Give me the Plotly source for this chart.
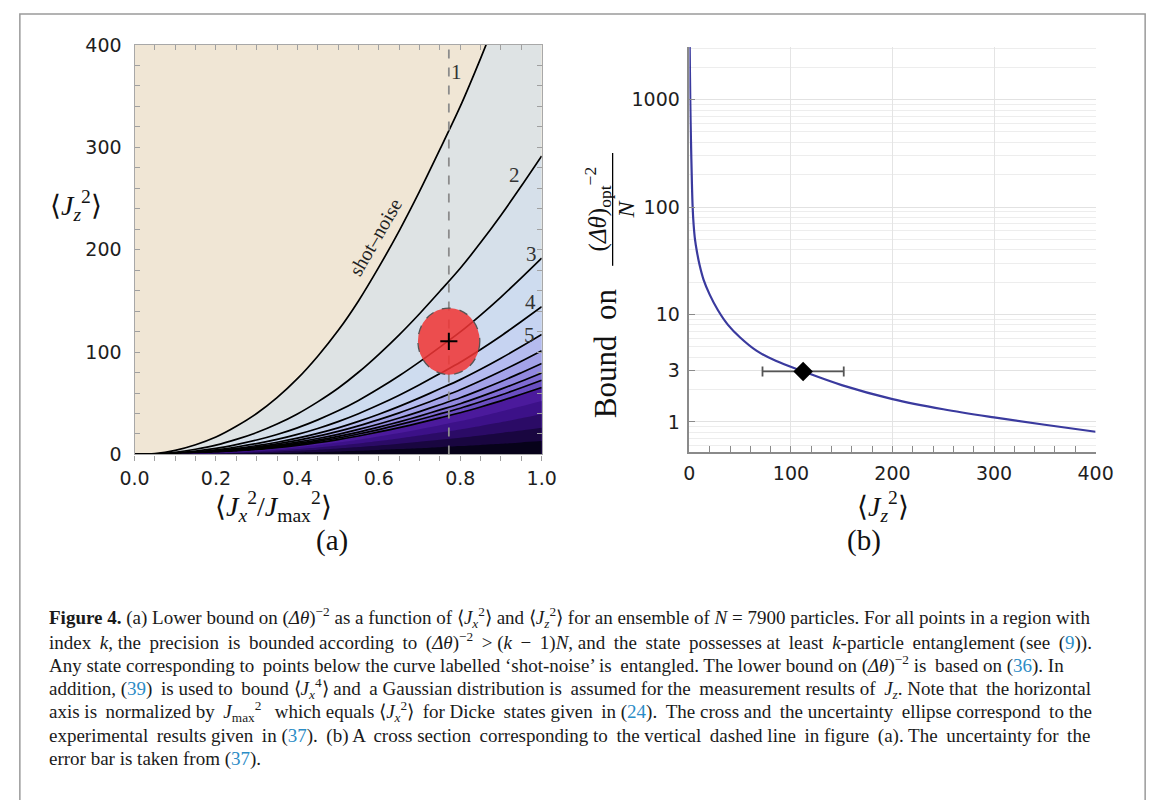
import plotly.graph_objects as go

W, H = 1168, 800

# ---------------- Panel (a) data: contour boundaries ----------------
xa = [0, 0.05, 0.1, 0.15, 0.2, 0.25, 0.3, 0.35, 0.4, 0.45, 0.5, 0.55, 0.6, 0.65, 0.7, 0.75, 0.8, 0.85, 0.9, 0.95, 1.0]
shot_noise = [0, 0.8, 4, 9.5, 17, 27.5, 40, 55.5, 74, 96, 121, 150, 183, 218.5, 257, 298, 340, 387, 437, 490, 545]
level2 = [0, 0.43, 2.1, 5.1, 9.1, 14.7, 21.4, 29.7, 39.6, 51.4, 64.7, 80.3, 97.9, 116.9, 137.5, 159.4, 181.9, 207.0, 233.8, 262.2, 291.6]
level3 = [0, 0.28, 1.41, 3.34, 5.98, 9.68, 14.1, 19.5, 26.0, 33.8, 42.6, 52.8, 64.4, 76.9, 90.5, 104.9, 119.7, 136.2, 153.8, 172.5, 191.8]
level4 = [0, 0.21, 1.06, 2.52, 4.5, 7.29, 10.6, 14.7, 19.6, 25.4, 32.1, 39.8, 48.5, 57.9, 68.1, 79.0, 90.1, 102.6, 115.8, 129.9, 144.4]
level5 = [0, 0.17, 0.86, 2.04, 3.66, 5.91, 8.6, 11.9, 15.9, 20.6, 26.0, 32.3, 39.3, 47.0, 55.3, 64.1, 73.1, 83.2, 94.0, 105.4, 117.2]
level6 = [0, 0.15, 0.74, 1.77, 3.16, 5.12, 7.44, 10.3, 13.8, 17.9, 22.5, 27.9, 34.0, 40.6, 47.8, 55.4, 63.2, 72.0, 81.3, 91.1, 101.4]
level7 = [0, 0.13, 0.65, 1.55, 2.77, 4.48, 6.52, 9.05, 12.1, 15.6, 19.7, 24.5, 29.8, 35.6, 41.9, 48.6, 55.4, 63.1, 71.2, 79.9, 88.8]
level8 = [0, 0.12, 0.58, 1.39, 2.48, 4.02, 5.84, 8.1, 10.8, 14.0, 17.7, 21.9, 26.7, 31.9, 37.5, 43.5, 49.6, 56.5, 63.8, 71.5, 79.6]
level9 = [0, 0.11, 0.53, 1.26, 2.26, 3.66, 5.32, 7.38, 9.84, 12.8, 16.1, 20.0, 24.3, 29.1, 34.2, 39.6, 45.2, 51.5, 58.1, 65.2, 72.5]
level10 = [0, 0.1, 0.48, 1.14, 2.04, 3.3, 4.8, 6.66, 8.88, 11.5, 14.5, 18.0, 22.0, 26.2, 30.8, 35.8, 40.8, 46.4, 52.4, 58.8, 65.4]
shade1 = [0, 0.08, 0.38, 0.91, 1.63, 2.64, 3.84, 5.33, 7.1, 9.2, 11.6, 14.4, 17.6, 21.0, 24.7, 28.6, 32.6, 37.2, 42.0, 47.0, 52.3]
shade2 = [0, 0.06, 0.29, 0.68, 1.22, 1.98, 2.88, 4.0, 5.33, 6.91, 8.71, 10.8, 13.2, 15.7, 18.5, 21.5, 24.5, 27.9, 31.5, 35.3, 39.2]
shade3 = [0, 0.04, 0.19, 0.46, 0.82, 1.32, 1.92, 2.66, 3.55, 4.61, 5.81, 7.2, 8.78, 10.5, 12.3, 14.3, 16.3, 18.6, 21.0, 23.5, 26.2]
shade4 = [0, 0.02, 0.1, 0.23, 0.41, 0.66, 0.96, 1.33, 1.78, 2.3, 2.9, 3.6, 4.39, 5.24, 6.17, 7.15, 8.16, 9.29, 10.5, 11.8, 13.1]

contour_levels = [shot_noise, level2, level3, level4, level5, level6, level7, level8, level9, level10]
level_colors = ['#dee3e4', '#d6e0ea', '#cedcef', '#c6d3f1', '#b5bbef', '#a3a2e8', '#9188df',
                '#7f6cd3', '#6a4fc2', '#4b1a9c']
shade_levels = [shade1, shade2, shade3, shade4]
shade_colors = ['#3c1188', '#2b0b66', '#190640', '#07021a']
beige = '#f0e6d5'

region_labels = ['1', '2', '3', '4', '5']
region_label_x = [0.792, 0.933, 0.974, 0.972, 0.970]
region_label_y = [374, 273, 196, 149, 117]

cut_x = 0.772                 # vertical dashed cross-section
exp_x, exp_y = 0.772, 110.5   # experimental point
ell_dx, ell_dy = 0.076, 32.5  # uncertainty ellipse half-widths
cross_dx, cross_dy = 0.021, 8.5

# ---------------- Panel (b) data ----------------
jz = [0.3, 0.6, 1.0, 1.6, 2.4, 3.2, 4.2, 5.5, 7.5, 10, 14, 20, 28, 38, 50, 66, 85, 112, 150, 200, 250, 300, 350, 400]
bound = [3100, 1600, 800, 400, 180, 100, 68, 50, 38, 29, 21, 15.3, 11, 8.0, 6.1, 4.6, 3.7, 2.95, 2.2, 1.63, 1.31, 1.10, 0.94, 0.81]
pt_jz, pt_bound, pt_err = 112, 2.95, 40

x_ticks_a = [0, 0.2, 0.4, 0.6, 0.8, 1.0]
x_ticktext_a = ['0.0', '0.2', '0.4', '0.6', '0.8', '1.0']
y_ticks_a = [0, 100, 200, 300, 400]
x_ticks_b = [0, 100, 200, 300, 400]
y_ticks_b = [1, 3, 10, 100, 1000]
y_minor_b = [0.6, 0.7, 0.8, 0.9, 2, 4, 5, 6, 7, 8, 9, 20, 30, 40, 50, 60, 70, 80, 90,
             200, 300, 400, 500, 600, 700, 800, 900, 2000, 3000]


def px(x):
    return x / W


def py(y):
    return 1 - y / H


SERIF = 'Liberation Serif'
SANS = 'DejaVu Sans'
TICKFONT = dict(family=SANS, size=19, color='#1e1e1e')

fig = go.Figure()

for ys, col in zip(contour_levels, level_colors):
    fig.add_trace(go.Scatter(x=xa, y=ys, mode='lines', fill='tozeroy', fillcolor=col,
                             line=dict(color='black', width=1.7, shape='spline', smoothing=0.8),
                             xaxis='x', yaxis='y', hoverinfo='skip'))
for ys, col in zip(shade_levels, shade_colors):
    fig.add_trace(go.Scatter(x=xa, y=ys, mode='lines', fill='tozeroy', fillcolor=col,
                             line=dict(color=col, width=0, shape='spline', smoothing=0.8),
                             xaxis='x', yaxis='y', hoverinfo='skip'))

# dashed cross-section line (drawn on the top frame axis so that axis exists)
fig.add_trace(go.Scatter(x=[cut_x, cut_x], y=[0, 400], mode='lines',
                         line=dict(color='#8c8c8c', width=1.8, dash='dash'),
                         xaxis='x3', yaxis='y', hoverinfo='skip'))

fig.add_trace(go.Scatter(x=jz, y=bound, mode='lines',
                         line=dict(color='#3a3a9e', width=2.2, shape='spline', smoothing=1.0),
                         xaxis='x2', yaxis='y2', hoverinfo='skip'))
fig.add_trace(go.Scatter(x=[pt_jz], y=[pt_bound], mode='markers',
                         marker=dict(symbol='diamond', size=15, color='black'),
                         error_x=dict(type='constant', value=pt_err, color='#555555', thickness=1.8, width=5),
                         xaxis='x2', yaxis='y2', hoverinfo='skip'))

shapes = [
    dict(type='rect', xref='x domain', yref='y domain', x0=0, x1=1, y0=0, y1=1,
         fillcolor=beige, line=dict(width=0), layer='below'),
    dict(type='circle', xref='x', yref='y', x0=exp_x - ell_dx, x1=exp_x + ell_dx,
         y0=exp_y - ell_dy, y1=exp_y + ell_dy, fillcolor='rgba(240,52,52,0.86)',
         line=dict(color='#555555', width=1.3, dash='dash'), layer='above'),
    dict(type='line', xref='x', yref='y', x0=exp_x - cross_dx, x1=exp_x + cross_dx, y0=exp_y, y1=exp_y,
         line=dict(color='black', width=2), layer='above'),
    dict(type='line', xref='x', yref='y', x0=exp_x, x1=exp_x, y0=exp_y - cross_dy, y1=exp_y + cross_dy,
         line=dict(color='black', width=2), layer='above'),
    dict(type='line', xref='paper', yref='paper', x0=px(615), x1=px(615), y0=py(262), y1=py(146),
         line=dict(color='black', width=1.3)),
    dict(type='rect', xref='paper', yref='paper', x0=px(5), x1=px(1163), y0=py(830), y1=py(3),
         line=dict(color='#9a9a9a', width=1.5), fillcolor='rgba(0,0,0,0)'),
]

annotations = []
for t, lx, ly in zip(region_labels, region_label_x, region_label_y):
    annotations.append(dict(x=lx, y=ly, xref='x', yref='y', text=t, showarrow=False,
                            font=dict(family=SERIF, size=21, color='#333333')))
annotations.append(dict(x=0.592, y=212, xref='x', yref='y', text='shot–noise', showarrow=False,
                        textangle=-60, font=dict(family=SERIF, size=20, color='#222222')))

MATH = dict(family=SERIF, size=28, color='#111111')
annotations += [
    dict(x=px(63), y=py(200), xref='paper', yref='paper', showarrow=False, font=MATH,
         xanchor='center', yanchor='middle', text='⟨<i>J</i><sub><i>z</i></sub><sup>2</sup>⟩'),
    dict(x=px(266), y=py(510), xref='paper', yref='paper', showarrow=False, font=MATH,
         xanchor='center', yanchor='middle',
         text='⟨<i>J</i><sub><i>x</i></sub><sup>2</sup>/<i>J</i><sub>max</sub><sup>2</sup>⟩'),
    dict(x=px(893), y=py(510), xref='paper', yref='paper', showarrow=False, font=MATH,
         xanchor='center', yanchor='middle', text='⟨<i>J</i><sub><i>z</i></sub><sup>2</sup>⟩'),
    dict(x=px(308), y=py(564), xref='paper', yref='paper', showarrow=False,
         font=dict(family=SERIF, size=29, color='#111111'), text='(a)'),
    dict(x=px(893), y=py(564), xref='paper', yref='paper', showarrow=False,
         font=dict(family=SERIF, size=29, color='#111111'), text='(b)'),
    dict(x=px(607), y=py(352), xref='paper', yref='paper', showarrow=False, textangle=-90,
         xanchor='center', yanchor='middle',
         font=dict(family=SERIF, size=31, color='#111111'), text='Bound&nbsp;&nbsp;on'),
    dict(x=px(600), y=py(204), xref='paper', yref='paper', showarrow=False, textangle=-90,
         xanchor='center', yanchor='middle',
         font=dict(family=SERIF, size=25, color='#111111'),
         text='(<i>Δθ</i>)<sub>opt</sub><sup>−2</sup>'),
    dict(x=px(629), y=py(204), xref='paper', yref='paper', showarrow=False, textangle=-90,
         xanchor='center', yanchor='middle',
         font=dict(family=SERIF, size=24, color='#111111'), text='<i>N</i>'),
]


def cite(n):
    return "(<span style='color:#2b8cc6'>%s</span>)" % n


def widen(line, n):
    """Spread n thin spaces over the word gaps (outside HTML tags) to imitate justified text."""
    if n <= 0:
        return line
    gaps, inside = [], False
    for i, ch in enumerate(line):
        if ch == '<':
            inside = True
        elif ch == '>':
            inside = False
        elif ch == ' ' and not inside:
            gaps.append(i)
    counts = {}
    for k in range(n):
        g = gaps[int((k + 0.5) * len(gaps) / n) % len(gaps)]
        counts[g] = counts.get(g, 0) + 1
    out = []
    for i, ch in enumerate(line):
        out.append(ch)
        if i in counts:
            out.append('\u2009' * counts[i])
    return ''.join(out)


caption_lines = [
    "<b>Figure 4.</b> (a) Lower bound on (<i>Δθ</i>)<sup>−2</sup> as a function of ⟨<i>J</i><sub><i>x</i></sub><sup>2</sup>⟩ "
    "and ⟨<i>J</i><sub><i>z</i></sub><sup>2</sup>⟩ for an ensemble of <i>N</i> = 7900 particles. For all points in a region with",
    "index <i>k</i>, the precision is bounded according to (<i>Δθ</i>)<sup>−2</sup> &gt; (<i>k</i> − 1)<i>N</i>, "
    "and the state possesses at least <i>k</i>-particle entanglement (see " + cite(9) + ").",
    "Any state corresponding to points below the curve labelled ‘shot-noise’ is entangled. The lower bound on "
    "(<i>Δθ</i>)<sup>−2</sup> is based on " + cite(36) + ". In",
    "addition, " + cite(39) + " is used to bound ⟨<i>J</i><sub><i>x</i></sub><sup>4</sup>⟩ and a Gaussian distribution "
    "is assumed for the measurement results of <i>J</i><sub><i>z</i></sub>. Note that the horizontal",
    "axis is normalized by <i>J</i><sub>max</sub><sup>2</sup>  which equals ⟨<i>J</i><sub><i>x</i></sub><sup>2</sup>⟩ "
    "for Dicke states given in " + cite(24) + ". The cross and the uncertainty ellipse correspond to the",
    "experimental results given in " + cite(37) + ". (b) A cross section corresponding to the vertical dashed line "
    "in figure (a). The uncertainty for the",
    "error bar is taken from " + cite(37) + ".",
]
caption_pad = [0, 16, 3, 7, 10, 11, 0]
for i, (line, pad) in enumerate(zip(caption_lines, caption_pad)):
    annotations.append(dict(x=px(33), y=py(624 + 24.2 * i), xref='paper', yref='paper', showarrow=False,
                            xanchor='left', yanchor='middle', align='left', text=widen(line, pad),
                            font=dict(family=SERIF, size=19, color='#1a1a1a')))

FRAME = '#a8a8a8'
fig.update_layout(
    width=W, height=H, margin=dict(l=0, r=0, t=0, b=0),
    paper_bgcolor='white', plot_bgcolor='rgba(0,0,0,0)', showlegend=False,
    # panel (a): bottom axis with outward ticks
    xaxis=dict(domain=[px(123), px(542)], anchor='y', range=[0, 1], side='bottom',
               tickmode='array', tickvals=x_ticks_a, ticktext=x_ticktext_a,
               showline=True, linecolor=FRAME, linewidth=1.2, mirror=False,
               ticks='outside', ticklen=5, tickcolor='#a0a0a0', tickwidth=1,
               minor=dict(dtick=0.05, ticks='outside', ticklen=5, tickcolor='#a0a0a0'),
               showgrid=False, zeroline=False, tickfont=TICKFONT, ticklabelstandoff=2),
    # panel (a): top frame with inward ticks
    xaxis3=dict(overlaying='x', anchor='y', side='top', range=[0, 1],
                tickmode='array', tickvals=x_ticks_a, showticklabels=False,
                showline=True, linecolor=FRAME, linewidth=1.2,
                ticks='inside', ticklen=5, tickcolor='#a0a0a0', tickwidth=1,
                minor=dict(dtick=0.05, ticks='inside', ticklen=5, tickcolor='#a0a0a0'),
                showgrid=False, zeroline=False),
    yaxis=dict(domain=[py(456), py(35)], anchor='x', range=[0, 400],
               tickmode='array', tickvals=y_ticks_a,
               showline=True, linecolor=FRAME, linewidth=1.2, mirror='allticks',
               ticks='inside', ticklen=5, tickcolor='#a0a0a0', tickwidth=1,
               minor=dict(dtick=20, ticks='inside', ticklen=5, tickcolor='#a0a0a0'),
               showgrid=False, zeroline=False, tickfont=TICKFONT, ticklabelstandoff=8),
    xaxis2=dict(domain=[px(694), px(1112)], anchor='y2', range=[0, 400],
                tickmode='array', tickvals=x_ticks_b,
                showline=True, linecolor='#8a8a8a', linewidth=1.5,
                ticks='inside', ticklen=6, tickcolor='#8a8a8a',
                minor=dict(dtick=20, ticks='inside', ticklen=6, tickcolor='#8a8a8a'),
                showgrid=True, gridcolor='#e4e4e4', gridwidth=1, zeroline=False,
                tickfont=TICKFONT, ticklabelstandoff=4),
    yaxis2=dict(domain=[py(453), py(37)], anchor='x2', type='log', range=[-0.276, 3.49],
                tickmode='array', tickvals=y_ticks_b, ticktext=[str(v) for v in y_ticks_b],
                showline=True, linecolor='#8a8a8a', linewidth=1.5,
                ticks='inside', ticklen=6, tickcolor='#8a8a8a',
                showgrid=True, gridcolor='#e2e2e2', gridwidth=1, zeroline=False,
                minor=dict(tickmode='array', tickvals=y_minor_b, showgrid=True,
                           gridcolor='#ededed', gridwidth=1, ticks=''),
                tickfont=TICKFONT, ticklabelstandoff=4),
    shapes=shapes, annotations=annotations,
)

fig.write_html('out.html', config={'displayModeBar': False},
               post_script="document.body.style.margin='0px';document.body.style.overflow='hidden';")
